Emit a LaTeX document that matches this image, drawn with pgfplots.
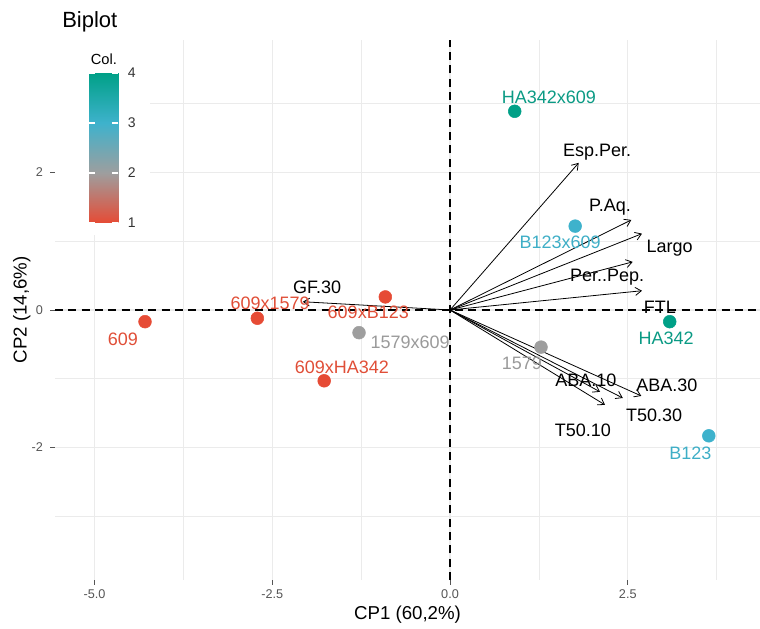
\documentclass[border=0pt]{standalone}
\usepackage{fontspec}
\setmainfont{Liberation Sans}
\usepackage{pgfplots}
\pgfplotsset{compat=1.18}
\usepackage{pgfplotstable}
\usetikzlibrary{arrows.meta}

\definecolor{lab1}{HTML}{E04E37}
\definecolor{lab2}{HTML}{9A9A9A}
\definecolor{lab3}{HTML}{3EAEC6}
\definecolor{lab4}{HTML}{0A9A84}
\definecolor{gridc}{HTML}{EBEBEB}
\definecolor{tickc}{HTML}{555555}

% individual scores on the first two components, parent group and label position
\pgfplotstableread{
x y col label lx ly
-4.29 -0.17 1 609 -4.60 -0.42
-2.71 -0.12 1 609x1579 -2.53 0.10
-0.91 0.19 1 609xB123 -1.15 -0.03
-1.77 -1.03 1 609xHA342 -1.52 -0.84
-1.28 -0.33 2 1579x609 -0.56 -0.47
1.28 -0.54 2 1579 1.01 -0.77
1.76 1.22 3 B123x609 1.55 0.99
3.64 -1.83 3 B123 3.38 -2.08
0.91 2.89 4 HA342x609 1.39 3.10
3.09 -0.17 4 HA342 3.04 -0.41
}\scores

% variable loadings (arrow ends) and label position
\pgfplotstableread{
u v label lx ly
1.81 2.14 Esp.Per. 2.07 2.30
2.55 1.31 P.Aq. 2.25 1.50
2.70 1.11 Largo 3.09 0.90
2.57 0.70 Per..Pep. 2.21 0.48
2.70 0.28 FTL 2.95 0.04
2.11 -1.19 ABA.10 1.91 -1.02
2.69 -1.25 ABA.30 3.05 -1.09
2.43 -1.28 T50.30 2.87 -1.53
2.18 -1.38 T50.10 1.87 -1.75
-2.07 0.12 GF.30 -1.87 0.33
}\loadings

\newcommand\lbfont{\fontsize{13.5}{15}\selectfont}

\pgfplotsset{
  % labels of one parent group, in that group's colour
  group labels/.style={draw=none, mark=none, nodes near coords, point meta=explicit symbolic,
    restrict expr to domain={\thisrow{col}}{#1:#1},
    every node near coord/.append style={anchor=center, inner sep=0pt, text=lab#1, font=\lbfont}},
}

\begin{document}
\begin{tikzpicture}
\path[use as bounding box] (-41.25pt,-36pt) rectangle (528.75pt,435pt);
\begin{axis}[
  name=ax,
  scale only axis,
  width=528.75pt, height=405pt,
  xmin=-5.556, xmax=4.36, ymin=-3.927, ymax=3.927,
  axis line style={draw=none},
  xtick={-5,-2.5,0,2.5}, ytick={-2,0,2},
  minor xtick={-3.75,-1.25,1.25,3.75}, minor ytick={-3,-1,1,3},
  grid=both,
  major grid style={draw=gridc, line width=0.8pt},
  minor grid style={draw=gridc, line width=0.45pt},
  tick align=outside, xtick pos=bottom, ytick pos=left,
  major tick length=3.5pt, minor tick length=0pt,
  tick style={draw=tickc, line width=0.6pt},
  /pgf/number format/assume math mode=true,
  xticklabel style={/pgf/number format/.cd, fixed, fixed zerofill, precision=1},
  yticklabel style={xshift=-2pt},
  ticklabel style={font=\fontsize{9.5}{11}\selectfont, text=tickc},
  xlabel={CP1 (60,2\%)}, ylabel={CP2 (14,6\%)},
  label style={font=\fontsize{14}{16}\selectfont},
  xlabel style={at={(axis description cs:0.5,-0.0648)}, anchor=center},
  ylabel style={at={(axis description cs:-0.047,0.5)}, anchor=center},
  colormap={parents}{rgb255=(230,75,53) rgb255=(158,158,158) rgb255=(62,178,204) rgb255=(0,160,135)},
  point meta min=1, point meta max=4,
  colorbar,
  colorbar/width=21.75pt,
  colorbar style={
    at={(parent axis.north west)}, anchor=north west,
    xshift=17.25pt, yshift=-24.75pt,
    scale only axis, height=112.5pt,
    axis line style={draw=none},
    ytick={1,2,3,4}, yticklabel pos=right, ytick pos=both,
    tick align=inside, major tick length=4.5pt,
    tick style={draw=white, line width=0.8pt},
    /pgf/number format/assume math mode=true,
    yticklabel style={font=\fontsize{10.5}{12}\selectfont, text=black!80, xshift=3.5pt},
    title={Col.},
    title style={font=\fontsize{11}{13}\selectfont, yshift=-3pt},
  },
]
% white backing behind the colour legend
\fill[white] (rel axis cs:0,0.639) rectangle (rel axis cs:0.135,1);

% reference lines through the origin
\addplot[black, line width=0.9pt, dash pattern=on 6pt off 4pt, forget plot] coordinates {(-5.556,0) (4.36,0)};
\addplot[black, line width=0.9pt, dash pattern=on 6pt off 4pt, forget plot] coordinates {(0,-3.927) (0,3.927)};

% individuals
\addplot[scatter, only marks, mark=*, mark size=4.8pt, point meta=explicit,
  scatter/use mapped color={draw=mapped color, fill=mapped color}]
  table[x=x, y=y, meta=col] {\scores};

% individual labels, one colour per parent group
\addplot[group labels=1] table[x=lx, y=ly, meta=label] {\scores};
\addplot[group labels=2] table[x=lx, y=ly, meta=label] {\scores};
\addplot[group labels=3] table[x=lx, y=ly, meta=label] {\scores};
\addplot[group labels=4] table[x=lx, y=ly, meta=label] {\scores};

% variable arrows
\addplot[black, line width=0.6pt, -{Straight Barb[length=4.5pt, width=6pt]},
  quiver={u=\thisrow{u}, v=\thisrow{v}}]
  table[x expr=0, y expr=0] {\loadings};

% variable labels
\addplot[draw=none, mark=none, nodes near coords, point meta=explicit symbolic,
  every node near coord/.append style={anchor=center, inner sep=0pt, text=black, font=\lbfont}]
  table[x=lx, y=ly, meta=label] {\loadings};
\end{axis}
% plot title
\node[anchor=west, inner sep=0pt, font=\fontsize{16.5}{19}\selectfont]
  at ([xshift=5.25pt, yshift=13.5pt]ax.north west) {Biplot};
\end{tikzpicture}
\end{document}
